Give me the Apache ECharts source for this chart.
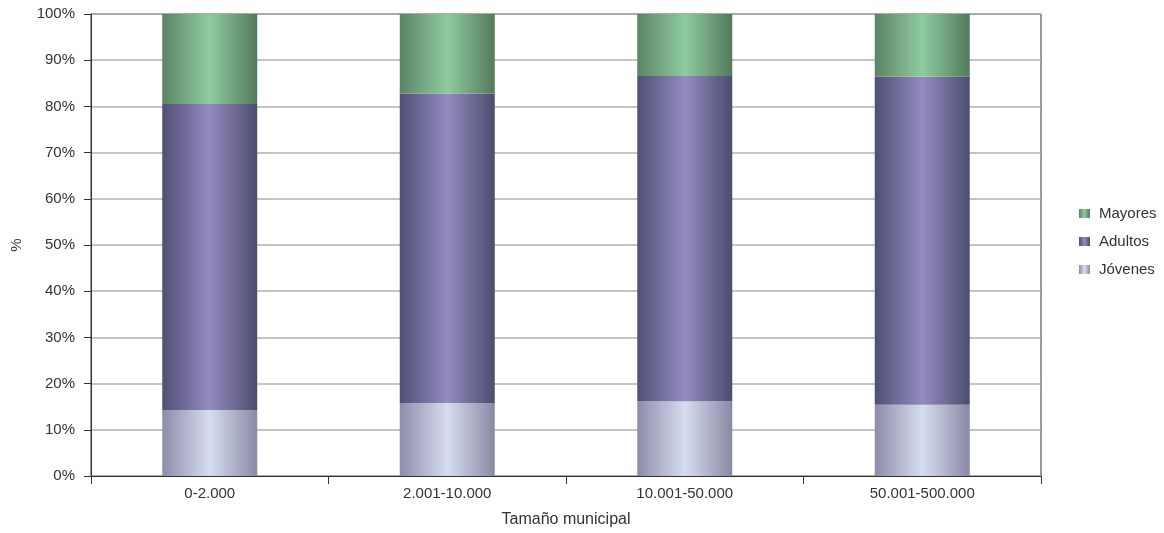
<!DOCTYPE html>
<html>
<head>
<meta charset="utf-8">
<script src="https://cdn.jsdelivr.net/npm/echarts@6/dist/echarts.min.js"></script>
<style>html,body{margin:0;padding:0;background:#fff}#c{width:1164px;height:533px}</style>
</head>
<body>
<div id="c"></div>
<script>
const categories = ['0-2.000', '2.001-10.000', '10.001-50.000', '50.001-500.000'];
const jovenes = [14.3, 15.8, 16.2, 15.4];
const adultos = [66.2, 67.0, 70.4, 71.0];
const mayores = [19.5, 17.2, 13.4, 13.6];
const yTicks = [0, 10, 20, 30, 40, 50, 60, 70, 80, 90, 100];

function grad(edgeL, center, edgeR) {
  return new echarts.graphic.LinearGradient(0, 0, 1, 0, [
    {offset: 0, color: edgeL},
    {offset: 0.5, color: center},
    {offset: 1, color: edgeR}
  ]);
}
const FONT = 'Liberation Sans';
const TXT = '#333';
const chart = echarts.init(document.getElementById('c'));
chart.setOption({
  animation: false,
  textStyle: {fontFamily: FONT},
  grid: {left: 91, right: 123, top: 14, bottom: 57, show: true, borderColor: '#333', borderWidth: 1},
  legend: {
    orient: 'vertical', left: 1074, top: 201,
    data: ['Mayores', 'Adultos', 'Jóvenes'],
    icon: 'rect', itemWidth: 11, itemHeight: 9, itemGap: 13,
    textStyle: {fontSize: 15, color: TXT, fontFamily: FONT, padding: [0, 0, 0, 4]}
  },
  xAxis: {
    type: 'category', data: categories,
    name: 'Tamaño municipal', nameLocation: 'middle', nameGap: 36,
    nameTextStyle: {fontSize: 16, color: TXT, fontFamily: FONT},
    axisLine: {lineStyle: {color: '#333', width: 1}},
    axisTick: {show: true, length: 8, lineStyle: {color: '#333'}},
    axisLabel: {fontSize: 15, color: TXT, margin: 10, fontFamily: FONT}
  },
  yAxis: {
    type: 'value', min: 0, max: 100, interval: 10,
    name: '%', nameLocation: 'middle', nameGap: 67, nameRotate: 90,
    nameTextStyle: {fontSize: 15, color: TXT, fontFamily: FONT},
    axisLine: {show: true, lineStyle: {color: '#333', width: 1}},
    axisTick: {show: true, length: 7, lineStyle: {color: '#333'}},
    axisLabel: {fontSize: 15, color: TXT, margin: 16, fontFamily: FONT,
      formatter: v => yTicks.includes(v) ? v + '%' : ''},
    splitLine: {lineStyle: {color: '#b0b0b0', width: 1.5}}
  },
  series: [
    {name: 'Jóvenes', type: 'bar', stack: 't', data: jovenes, barWidth: '40%',
      itemStyle: {color: grad('#8d8ca9', '#d6ddef', '#8a89a5')}},
    {name: 'Adultos', type: 'bar', stack: 't', data: adultos, barWidth: '40%',
      itemStyle: {color: grad('#4f5076', '#948bc0', '#4c4d6e')}},
    {name: 'Mayores', type: 'bar', stack: 't', data: mayores, barWidth: '40%',
      itemStyle: {color: grad('#5b8466', '#8ecb9f', '#537a5c')}}
  ]
});
</script>
</body>
</html>
